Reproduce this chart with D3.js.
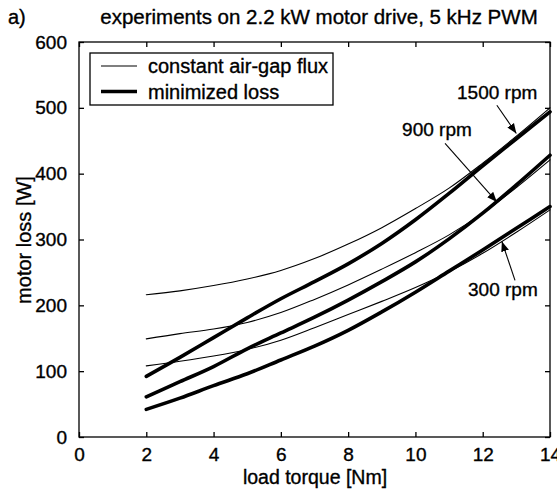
<!DOCTYPE html>
<html>
<head>
<meta charset="utf-8">
<script src="https://cdn.jsdelivr.net/npm/d3@7"></script>
<style>
  html, body { margin: 0; padding: 0; background: #fff; }
  svg text { font-family: "Liberation Sans", Arial, sans-serif; fill: #000; stroke: #000; stroke-width: 0.35px; }
</style>
</head>
<body>
<svg id="chart" width="557" height="492"></svg>
<script>
// ---- data ----
const torque = [2, 3, 4, 5, 6, 7, 8, 9, 10, 11, 12, 13, 14];
const flux1500 = [216, 222, 230, 240, 253, 271, 293, 318, 347, 378, 416, 457, 500];
const min1500  = [92, 121, 151, 181, 210, 236, 263, 294, 330, 370, 412, 453, 494];
const flux900  = [149, 157, 164, 174, 189, 209, 231, 255, 280, 307, 340, 379, 421];
const min900   = [61, 84, 107, 134, 158, 182, 208, 236, 266, 301, 340, 383, 428];
const flux300  = [108, 115, 123, 133, 147, 166, 186, 206, 227, 251, 279, 311, 345];
const min300   = [42, 59, 78, 96, 117, 138, 162, 190, 220, 252, 284, 317, 350];
const xTicks = [0, 2, 4, 6, 8, 10, 12, 14];
const yTicks = [0, 100, 200, 300, 400, 500, 600];
const legendLabels = ["constant air-gap flux", "minimized loss"];
const speedLabels = ["1500 rpm", "900 rpm", "300 rpm"];
// annotation anchors in data units: [text x, text y, arrow start x, y, arrow tip x, y]
const speedNotes = [
  [12.43, 513, 12.42, 504, 13.0, 461],
  [10.64, 457, 10.88, 446, 12.42, 357],
  [12.6, 214, 12.96, 238, 12.57, 297]
];

const svg = d3.select("#chart");
const x = d3.scaleLinear().domain([0, 14]).range([79, 550]);
const y = d3.scaleLinear().domain([0, 600]).range([437, 42]);

// frame
svg.append("rect").attr("x", 79).attr("y", 42).attr("width", 471).attr("height", 395)
  .attr("fill", "none").attr("stroke", "#000").attr("stroke-width", 1.3);

const fs = 19;
// axes (ticks inward, MATLAB style)
const gx = svg.append("g").attr("transform", "translate(0,437)")
  .call(d3.axisBottom(x).tickValues(xTicks).tickSize(-5).tickPadding(11).tickFormat(d3.format("d")));
const gxt = svg.append("g").attr("transform", "translate(0,42)")
  .call(d3.axisTop(x).tickValues(xTicks).tickSize(-5).tickFormat(""));
const gy = svg.append("g").attr("transform", "translate(79,0)")
  .call(d3.axisLeft(y).tickValues(yTicks).tickSize(-5).tickPadding(12).tickFormat(d3.format("d")));
const gyr = svg.append("g").attr("transform", "translate(550,0)")
  .call(d3.axisRight(y).tickValues(yTicks).tickSize(-5).tickFormat(""));
[gx, gxt, gy, gyr].forEach(g => {
  g.select(".domain").remove();
  g.selectAll("line").attr("stroke", "#000").attr("stroke-width", 1.3);
  g.selectAll("text").attr("font-size", fs).attr("font-family", "Liberation Sans, Arial, sans-serif").attr("fill", "#000");
});

// series
const series = [
  {v: flux1500, w: 1.1}, {v: flux900, w: 1.1}, {v: flux300, w: 1.1},
  {v: min1500, w: 3.6}, {v: min900, w: 3.6}, {v: min300, w: 3.6}
];
const line = d3.line().x((d, i) => x(torque[i])).y(d => y(d)).curve(d3.curveCatmullRom.alpha(0.5));
svg.append("g").selectAll("path").data(series).join("path")
  .attr("d", s => line(s.v)).attr("fill", "none").attr("stroke", "#000")
  .attr("stroke-width", s => s.w).attr("stroke-linejoin", "round").attr("stroke-linecap", "round");

// legend
svg.append("rect").attr("x", 90).attr("y", 53).attr("width", 243).attr("height", 52)
  .attr("fill", "#fff").attr("stroke", "#000").attr("stroke-width", 1.3);
[1.1, 3.6].forEach((w, i) => {
  const ly = 66 + i * 25.5;
  svg.append("line").attr("x1", 101).attr("x2", 137).attr("y1", ly).attr("y2", ly)
    .attr("stroke", "#000").attr("stroke-width", w);
  svg.append("text").attr("x", 148).attr("y", ly + 7).attr("font-size", 20).text(legendLabels[i]);
});

// speed annotations with arrows
svg.append("defs").append("marker").attr("id", "arr").attr("viewBox", "0 0 10 10")
  .attr("refX", 10).attr("refY", 5).attr("markerWidth", 10).attr("markerHeight", 10)
  .attr("markerUnits", "userSpaceOnUse").attr("orient", "auto")
  .append("path").attr("d", "M0,1 L10,5 L0,9 Z").attr("fill", "#000");
speedNotes.forEach((n, i) => {
  svg.append("text").attr("x", x(n[0])).attr("y", y(n[1])).attr("font-size", 19)
    .attr("text-anchor", "middle").text(speedLabels[i]);
  svg.append("line").attr("x1", x(n[2])).attr("y1", y(n[3])).attr("x2", x(n[4])).attr("y2", y(n[5]))
    .attr("stroke", "#000").attr("stroke-width", 1.1).attr("marker-end", "url(#arr)");
});

// titles
svg.append("text").attr("x", 8).attr("y", 24).attr("font-size", 20).text("a)");
svg.append("text").attr("x", 319).attr("y", 24).attr("font-size", 20.5).attr("text-anchor", "middle")
  .text("experiments on 2.2 kW motor drive, 5 kHz PWM");
svg.append("text").attr("x", 315).attr("y", 484).attr("font-size", 19.5).attr("text-anchor", "middle")
  .text("load torque [Nm]");
svg.append("text").attr("transform", "translate(31,240) rotate(-90)").attr("font-size", 20)
  .attr("text-anchor", "middle").text("motor loss [W]");
</script>
</body>
</html>
